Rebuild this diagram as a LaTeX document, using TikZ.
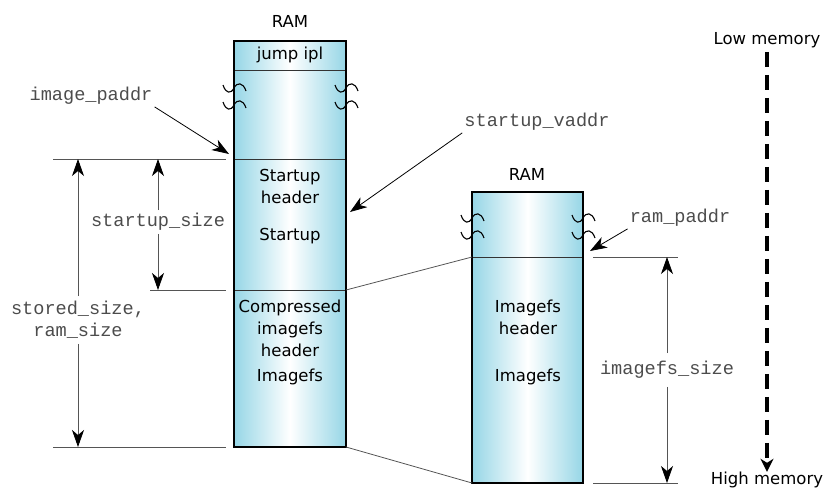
\documentclass[tikz,border=0pt]{standalone}
\usepackage{fontspec}
\setmainfont{DejaVu Sans}
\setmonofont{Liberation Mono}
\usetikzlibrary{arrows.meta}
\definecolor{ramcyan}{RGB}{150,214,230}
\definecolor{dimgray}{RGB}{85,85,85}
\tikzset{
  ramfill/.style={left color=ramcyan,right color=ramcyan,middle color=white},
  col/.style={line width=1.3pt},
  sep/.style={line width=0.8pt,draw=black!80},
  lbl/.style={font=\fontsize{16.5}{22}\selectfont,align=center,inner sep=0pt},
  addr/.style={font=\fontsize{18.6}{22}\selectfont\ttfamily,text=black!70,align=center,inner sep=3pt},
  dim/.style={draw=dimgray,line width=0.8pt},
  dimptr/.style={dim,-{Stealth[length=17pt,width=12pt,inset=5pt,black]}},
  ptr/.style={line width=0.8pt,-{Stealth[length=17pt,width=12pt,inset=5pt]}},
  memptr/.style={line width=3.2pt,dash pattern=on 15pt off 8pt,
    -{Stealth[length=13pt,width=13pt,inset=4pt]}},
  squig/.pic={\draw[line width=1.1pt] (-11,-3) .. controls (-8,6) and (-3,6) .. (0,0)
    .. controls (3,-6) and (9,-6) .. (12,3);}
}
\begin{document}
\begin{tikzpicture}[x=1pt,y=-1pt]
\useasboundingbox (0,0) rectangle (827,491);
% columns
\shade[ramfill] (234,41) rectangle (346,447);
\shade[ramfill] (472,192) rectangle (583,483);
\foreach \y in {70,159,290}
  \draw[sep] (234,\y) -- (346,\y);
\draw[sep] (472,257) -- (583,257);
\draw[col] (234,41) rectangle (346,447);
\draw[col] (472,192) rectangle (583,483);
\foreach \x/\y in {234/88,234/105,346/88,346/105,472/218,472/235,583/218,583/235}
  \pic at (\x,\y) {squig};
\coordinate (stTop) at (234,159);
\coordinate (cmTop) at (346,290);
\coordinate (cmBot) at (346,447);
\coordinate (rpTop) at (472,257);
\coordinate (rpBot) at (472,483);
% texts in the columns
\node[lbl] (ramA) at (290,21) {RAM};
\node[lbl] (jmp) at (290,55) {jump ipl};
\node[lbl] (sthdr) at (290,186) {Startup\\header};
\node[lbl] (st) at (290,236) {Startup};
\node[lbl] (cmhdr) at (290,328) {Compressed\\imagefs\\header};
\node[lbl] (cmimg) at (290,377) {Imagefs};
\node[lbl] (ramB) at (527,174) {RAM};
\node[lbl] (imhdr) at (528,317) {Imagefs\\header};
\node[lbl] (img) at (528,377) {Imagefs};
% copy
\draw[dim] (cmTop) -- (rpTop);
\draw[dim] (cmBot) -- (rpBot);
% sizes
\draw[dim] (53,159) -- (226,159);
\draw[dim] (150,290) -- (226,290);
\draw[dim] (53,447) -- (226,447);
\draw[dim] (593,257) -- (678,257);
\draw[dim] (593,483) -- (678,483);
\node[addr] (stsz) at (158,222) {startup\_size};
\draw[dimptr] (stsz) -- (stsz |- stTop);
\draw[dimptr] (stsz) -- (stsz |- cmTop);
\node[addr,inner ysep=5pt] (sdsz) at (78,320) {stored\_size,\\ram\_size};
\draw[dimptr] (sdsz) -- (sdsz |- stTop);
\draw[dimptr] (sdsz) -- (sdsz |- cmBot);
\node[addr,inner ysep=8pt] (imsz) at (667,370) {imagefs\_size};
\draw[dimptr] (imsz) -- (imsz |- rpTop);
\draw[dimptr] (imsz) -- (imsz |- rpBot);
% addresses
\node[addr,inner sep=2pt] (ipa) at (91,96) {image\_paddr};
\coordinate (ipaTip) at (229,154);
\draw[ptr] (ipa.south east) -- (ipaTip);
\node[addr,inner sep=2pt] (sva) at (537,122) {startup\_vaddr};
\coordinate (svaTip) at (350,212);
\draw[ptr] (sva.south west) -- (svaTip);
\node[addr,inner sep=2pt] (rpa) at (680,218) {ram\_paddr};
\coordinate (rpaTip) at (590,251);
\draw[ptr] (rpa.south west) -- (rpaTip);
% direction
\node[lbl] (low) at (767,40) {Low memory};
\node[lbl] (high) at (767,480) {High memory};
\draw[memptr,shorten <=4pt] (low) -- (high);
\end{tikzpicture}
\end{document}
